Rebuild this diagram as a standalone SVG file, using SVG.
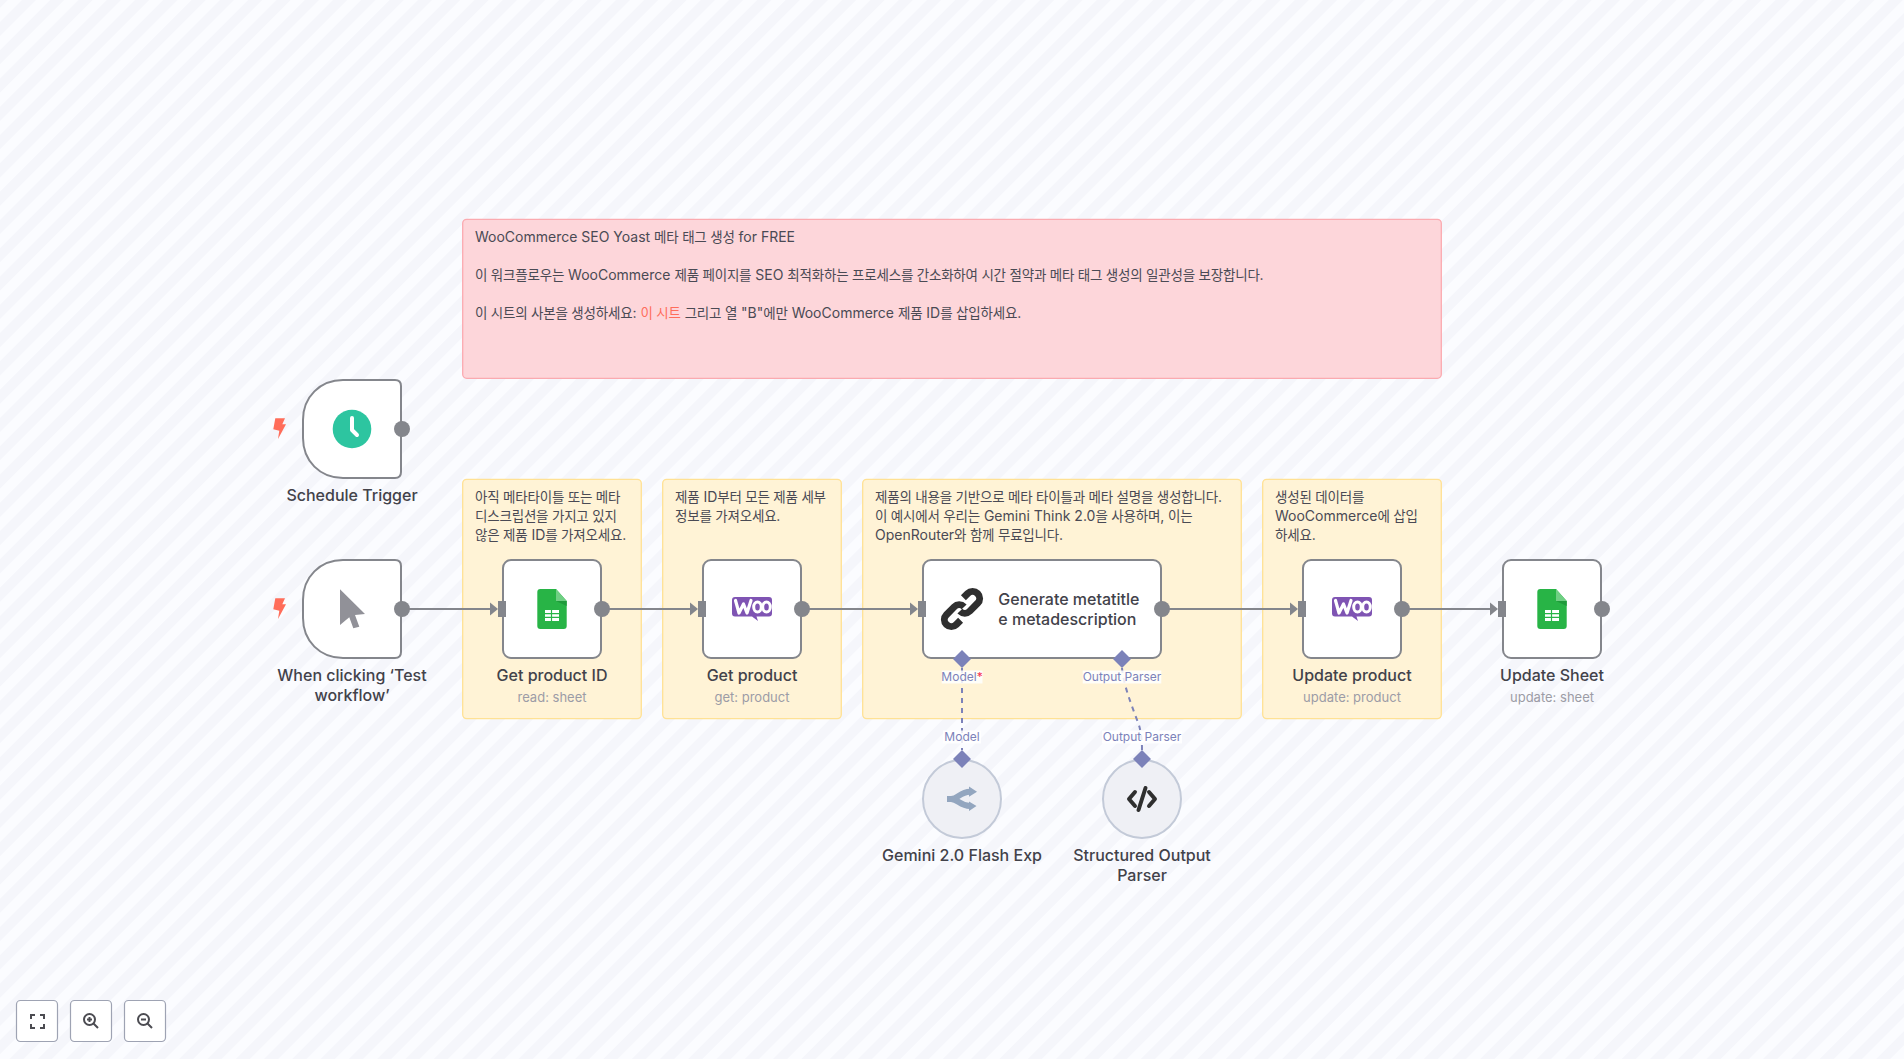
<svg xmlns="http://www.w3.org/2000/svg" width="1904" height="1059" viewBox="0 0 1904 1059">
<style>
text{font-family:"Inter","Noto Sans CJK KR","Noto Sans",sans-serif}
.sticky{fill:#fff3d6;stroke:#ffe194;stroke-width:1.3}
.red{fill:#fdd6da;stroke:#fbaab0;stroke-width:1.3}
.st{font-size:14px;fill:#4a4a54}
.k{font-size:13.5px;letter-spacing:-.2px}
.node{fill:#fff;stroke:#84868c;stroke-width:2}
.sub{fill:#eff0f5;stroke:#c3cad8;stroke-width:2}
.lab{font-size:16px;font-weight:500;fill:#42424a;text-anchor:middle}
.labl{text-anchor:start}
.sublab{font-size:13px;fill:#9c9ca6;text-anchor:middle}
.port{fill:#84868c}
.conn{fill:none;stroke:#84868c;stroke-width:2}
.dash{fill:none;stroke:#7c82b9;stroke-width:2;stroke-dasharray:5 5}
.pl{font-size:12px;fill:#7c82b9;text-anchor:middle}
.plbg{fill:#fff;fill-opacity:.85}
.dia{fill:#7c82b9}
.btn{fill:#fff;stroke:#9ea3b3;stroke-width:1.2}
.ic{fill:none;stroke:#4c4c52;stroke-width:2}
</style>
<defs>
<pattern id="bgp" width="20" height="20" patternUnits="userSpaceOnUse" patternTransform="rotate(-45) translate(0 15.500)">
<rect width="20" height="20" fill="#fbfcff"/>
<rect width="20" height="10" fill="#f5f6fb"/>
</pattern>
<path id="bolt" d="M-4 -10.700H5.700L3 -4.700H6.700L-1.300 10L0 1.700L-6 .3Z" fill="#ff6d5a"/>
<g id="sheet">
<path d="M-14.700 -17Q-14.700 -20 -11.700 -20H4L14.700 -8V17Q14.700 20 11.700 20H-11.700Q-14.700 20 -14.700 17Z" fill="#28b446"/>
<path d="M4 -20L14.700 -8H4Z" fill="#6fcf83"/>
<path d="M4 -8L14.700 -8V-3Z" fill="#1f9a3b"/>
<rect x="-7" y="1" width="14" height="11" fill="#fff"/>
<path d="M-7 4.700H7M-7 8.300H7M-0.500 1V12" stroke="#28b446" stroke-width="1.200" fill="none"/>
</g>
<g id="woo">
<path d="M-17 -12H17Q20 -12 20 -9V4.500Q20 7.500 17 7.500H4.500L6 12L0 7.500H-17Q-20 7.500 -20 4.500V-9Q-20 -12 -17 -12Z" fill="#7f54b3"/>
<path d="M-16.500 -8.500L-13 4L-8.500 -5L-5 4L-1 -8.500" fill="none" stroke="#fff" stroke-width="3.200" stroke-linejoin="round" stroke-linecap="round"/>
<ellipse cx="5.500" cy="-2" rx="3.800" ry="5" fill="none" stroke="#fff" stroke-width="3"/>
<ellipse cx="14.500" cy="-2" rx="3.800" ry="5" fill="none" stroke="#fff" stroke-width="3"/>
</g>
</defs>
<rect id="background" width="1904" height="1059" fill="url(#bgp)"/>

<g id="sticky-intro">
<rect class="red" x="462.700" y="219.300" width="978.600" height="159" rx="4"/>
<text class="st" x="475" y="241.500">WooCommerce SEO Yoast <tspan class="k">메타 태그 생성</tspan> for FREE</text>
<text class="st" x="475" y="279.500"><tspan class="k">이 워크플로우는</tspan> WooCommerce <tspan class="k">제품 페이지를</tspan> SEO <tspan class="k">최적화하는 프로세스를 간소화하여 시간 절약과 메타 태그 생성의 일관성을 보장합니다</tspan>.</text>
<text class="st" x="475" y="317.500"><tspan class="k">이 시트의 사본을 생성하세요</tspan>: <tspan class="k" fill="#ff6d5a">이 시트</tspan> <tspan class="k">그리고 열</tspan> "B"<tspan class="k">에만</tspan> WooCommerce <tspan class="k">제품</tspan> ID<tspan class="k">를 삽입하세요</tspan>.</text>
</g>
<g id="sticky-1">
<rect class="sticky" x="462.700" y="479.300" width="178.600" height="239.300" rx="4"/>
<text class="st k" x="475" y="501.500">아직 메타타이틀 또는 메타</text>
<text class="st k" x="475" y="520.700">디스크립션을 가지고 있지</text>
<text class="st" x="475" y="539.900"><tspan class="k">않은 제품</tspan> ID<tspan class="k">를 가져오세요</tspan>.</text>
</g>
<g id="sticky-2">
<rect class="sticky" x="662.700" y="479.300" width="178.600" height="239.300" rx="4"/>
<text class="st" x="675" y="501.500"><tspan class="k">제품</tspan> ID<tspan class="k">부터 모든 제품 세부</tspan></text>
<text class="st" x="675" y="520.700"><tspan class="k">정보를 가져오세요</tspan>.</text>
</g>
<g id="sticky-3">
<rect class="sticky" x="862.700" y="479.300" width="378.600" height="239.300" rx="4"/>
<text class="st" x="875" y="501.500"><tspan class="k">제품의 내용을 기반으로 메타 타이틀과 메타 설명을 생성합니다</tspan>.</text>
<text class="st" x="875" y="520.700"><tspan class="k">이 예시에서 우리는</tspan> Gemini Think 2.0<tspan class="k">을 사용하며</tspan>, <tspan class="k">이는</tspan></text>
<text class="st" x="875" y="539.900">OpenRouter<tspan class="k">와 함께 무료입니다</tspan>.</text>
</g>
<g id="sticky-4">
<rect class="sticky" x="1262.700" y="479.300" width="178.600" height="239.300" rx="4"/>
<text class="st k" x="1275" y="501.500">생성된 데이터를</text>
<text class="st" x="1275" y="520.700">WooCommerce<tspan class="k">에 삽입</tspan></text>
<text class="st" x="1275" y="539.900"><tspan class="k">하세요</tspan>.</text>
</g>

<g id="connectors">
<path class="conn" d="M402 609H491"/><path class="port" d="M490 602.500L498 609L490 615.500Z"/>
<path class="conn" d="M602 609H691"/><path class="port" d="M690 602.500L698 609L690 615.500Z"/>
<path class="conn" d="M802 609H911"/><path class="port" d="M910 602.500L918 609L910 615.500Z"/>
<path class="conn" d="M1162 609H1291"/><path class="port" d="M1290 602.500L1298 609L1290 615.500Z"/>
<path class="conn" d="M1402 609H1491"/><path class="port" d="M1490 602.500L1498 609L1490 615.500Z"/>
<path class="dash" d="M962 668V750"/>
<path class="dash" d="M1122 668C1124 690 1137 718 1139.500 727C1141 733 1142 740 1142 750"/>
<rect class="plbg" x="941.700" y="670.500" width="40.800" height="13"/>
<rect class="plbg" x="1082.700" y="670.500" width="78.600" height="13"/>
<rect class="plbg" x="943" y="730.500" width="38" height="13"/>
<rect class="plbg" x="1102" y="730.500" width="80" height="13"/>
<text class="pl" x="962" y="681">Model<tspan fill="#f5304f">*</tspan></text>
<text class="pl" x="1122" y="681">Output Parser</text>
<text class="pl" x="962" y="741">Model</text>
<text class="pl" x="1142" y="741">Output Parser</text>
</g>

<g id="node-schedule">
<path class="node" d="M343 380H395Q401 380 401 386V472Q401 478 395 478H343C320 478 303 461 303 438V420C303 397 320 380 343 380Z"/>
<circle cx="352" cy="429" r="19.300" fill="#2dc5a0"/>
<path d="M352 418V430L357 435" fill="none" stroke="#fff" stroke-width="4" stroke-linecap="round" stroke-linejoin="round"/>
<circle class="port" cx="402" cy="429" r="8"/>
<use href="#bolt" x="279.300" y="429"/>
<text class="lab" x="352" y="500.800">Schedule Trigger</text>
</g>
<g id="node-manual">
<path class="node" d="M343 560H395Q401 560 401 566V652Q401 658 395 658H343C320 658 303 641 303 618V600C303 577 320 560 343 560Z"/>
<path d="M340 589.300V625L349.300 617.300L353.300 628.300L359.300 626.700L355 615L365 614Z" fill="#919198"/>
<circle class="port" cx="402" cy="609" r="8"/>
<use href="#bolt" x="279.300" y="609"/>
<text class="lab" x="352" y="680.800">When clicking ‘Test</text>
<text class="lab" x="352" y="700.800">workflow’</text>
</g>
<g id="node-get-id">
<rect class="node" x="503" y="560" width="98" height="98" rx="8"/>
<rect class="port" x="498" y="601" width="8" height="16"/>
<use href="#sheet" x="552" y="609"/>
<circle class="port" cx="602" cy="609" r="8"/>
<text class="lab" x="552" y="680.800">Get product ID</text>
<text class="sublab" x="552" y="702">read: sheet</text>
</g>
<g id="node-get-product">
<rect class="node" x="703" y="560" width="98" height="98" rx="8"/>
<rect class="port" x="698" y="601" width="8" height="16"/>
<use href="#woo" x="752" y="609"/>
<circle class="port" cx="802" cy="609" r="8"/>
<text class="lab" x="752" y="680.800">Get product</text>
<text class="sublab" x="752" y="702">get: product</text>
</g>
<g id="node-generate">
<rect class="node" x="923" y="560" width="238" height="98" rx="8"/>
<rect class="port" x="918" y="601" width="8" height="16"/>
<g transform="rotate(-45 962 609)" fill="none" stroke="#2f2f2f" stroke-width="7">
<path d="M953 616H947A7 7 0 0 1 947 602H958A7 7 0 0 1 965 609"/>
<path d="M971 602H977A7 7 0 0 1 977 616H966A7 7 0 0 1 959 609"/>
</g>
<circle class="port" cx="1162" cy="609" r="8"/>
<path class="dia" d="M962 650L971 659L962 668L953 659Z"/>
<path class="dia" d="M1122 650L1131 659L1122 668L1113 659Z"/>
<text class="lab labl" x="998.300" y="605">Generate metatitle</text>
<text class="lab labl" x="998.300" y="625">e metadescription</text>
</g>
<g id="node-update-product">
<rect class="node" x="1303" y="560" width="98" height="98" rx="8"/>
<rect class="port" x="1298" y="601" width="8" height="16"/>
<use href="#woo" x="1352" y="609"/>
<circle class="port" cx="1402" cy="609" r="8"/>
<text class="lab" x="1352" y="680.800">Update product</text>
<text class="sublab" x="1352" y="702">update: product</text>
</g>
<g id="node-update-sheet">
<rect class="node" x="1503" y="560" width="98" height="98" rx="8"/>
<rect class="port" x="1498" y="601" width="8" height="16"/>
<use href="#sheet" x="1552" y="609"/>
<circle class="port" cx="1602" cy="609" r="8"/>
<text class="lab" x="1552" y="680.800">Update Sheet</text>
<text class="sublab" x="1552" y="702">update: sheet</text>
</g>
<g id="node-gemini">
<circle class="sub" cx="962" cy="799" r="39"/>
<path d="M947 799H951C958 799 960 791.700 970 791.700M951 799C958 799 960 806 970 806" fill="none" stroke="#93a6bf" stroke-width="6"/>
<path d="M969 786.500L977 791.700L969 796.700ZM969 801.500L976.500 806L969 811Z" fill="#93a6bf"/>
<path class="dia" d="M962 750L971 759L962 768L953 759Z"/>
<text class="lab" x="962" y="860.700">Gemini 2.0 Flash Exp</text>
</g>
<g id="node-parser">
<circle class="sub" cx="1142" cy="799" r="39"/>
<path d="M1135 792L1129 799L1135 806M1149 792L1155 799L1149 806M1145.500 788L1138.500 810" fill="none" stroke="#2f2f2f" stroke-width="4" stroke-linecap="round" stroke-linejoin="round"/>
<path class="dia" d="M1142 750L1151 759L1142 768L1133 759Z"/>
<text class="lab" x="1142" y="860.700">Structured Output</text>
<text class="lab" x="1142" y="880.700">Parser</text>
</g>

<g id="controls">
<rect class="btn" x="16.500" y="1000.500" width="41" height="41" rx="4"/>
<path class="ic" d="M31 1019V1015H35M40 1015H44V1019M44 1024V1028H40M35 1028H31V1024"/>
<rect class="btn" x="70.500" y="1000.500" width="41" height="41" rx="4"/>
<circle class="ic" cx="89.500" cy="1019.500" r="5.500"/>
<path class="ic" d="M93.500 1023.500L98 1028M87 1019.500H92M89.500 1017V1022"/>
<rect class="btn" x="124.500" y="1000.500" width="41" height="41" rx="4"/>
<circle class="ic" cx="143.500" cy="1019.500" r="5.500"/>
<path class="ic" d="M147.500 1023.500L152 1028M141 1019.500H146"/>
</g>
</svg>
